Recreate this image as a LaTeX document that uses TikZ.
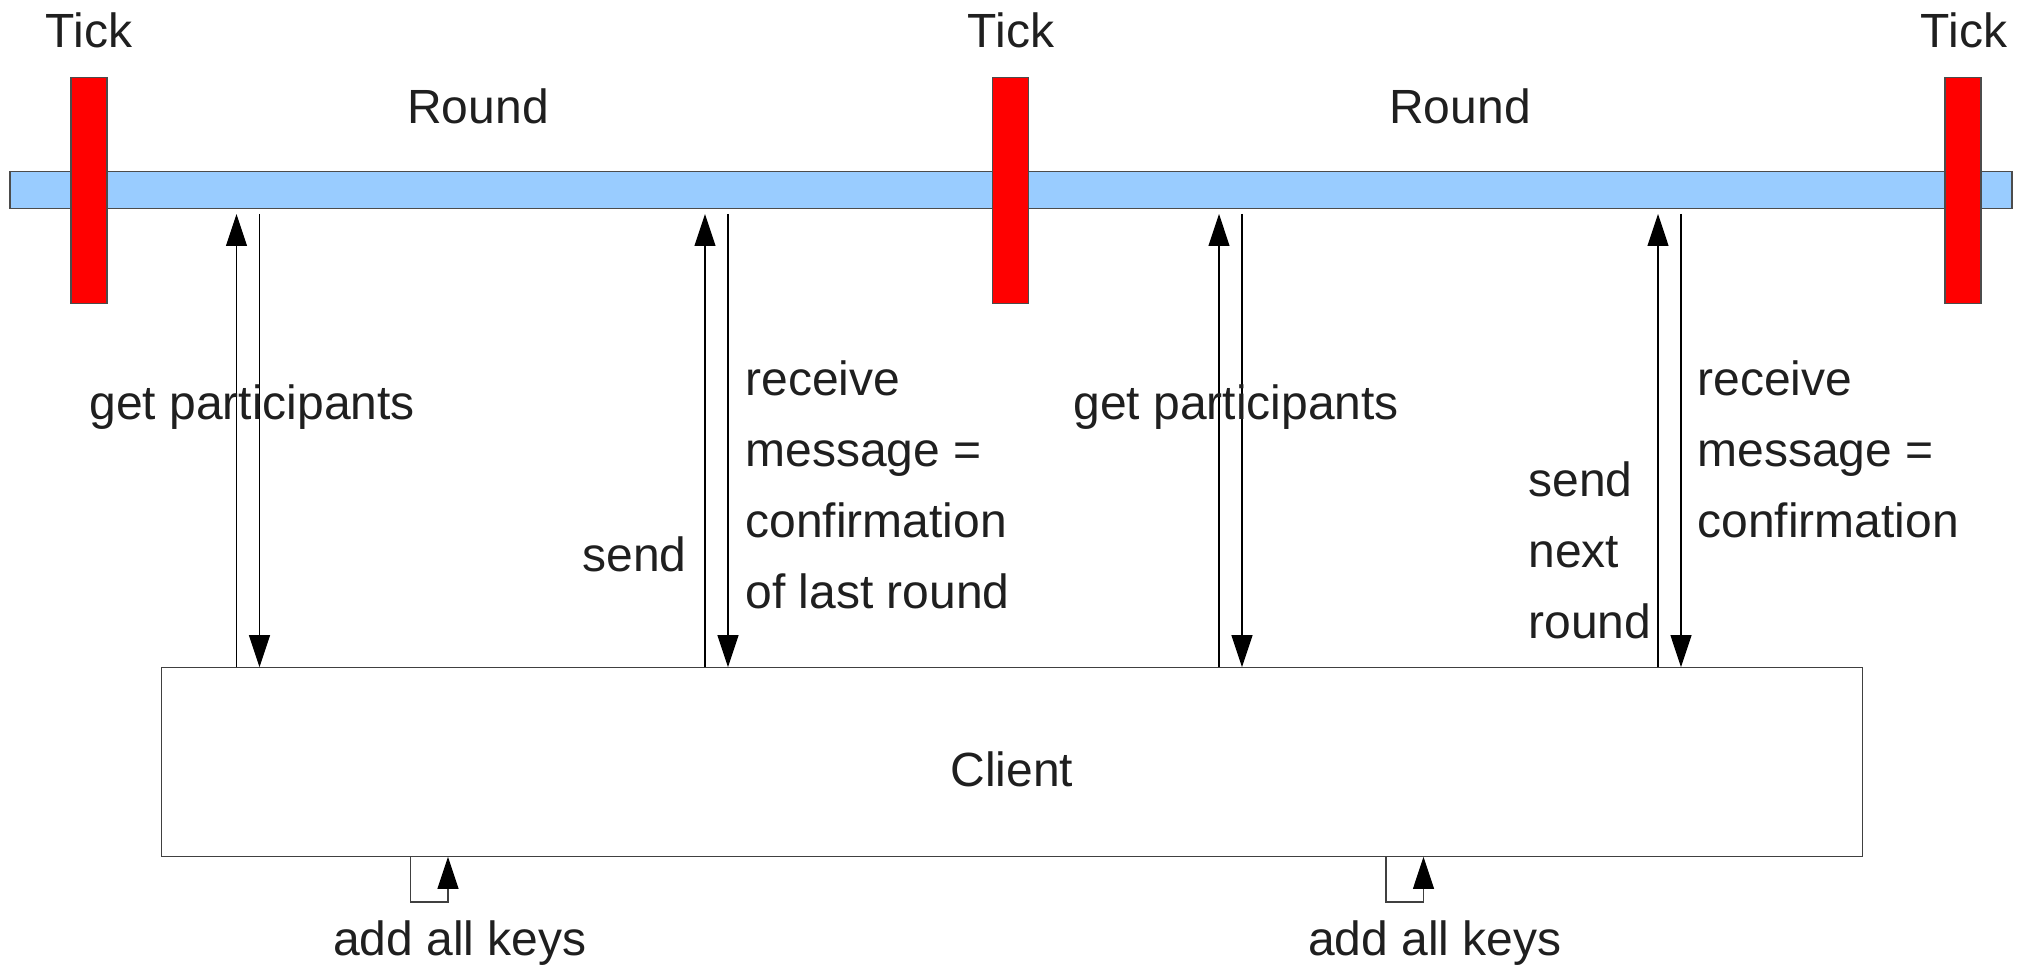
\documentclass[tikz,border=0pt]{standalone}
\usepackage{fontspec}
\setmainfont{Liberation Sans}
\usetikzlibrary{arrows.meta}
\begin{document}
\begin{tikzpicture}[x=0.5pt,y=-0.5pt,
  lbl/.style={font=\fontsize{24}{35.5}\selectfont, text=black!88, inner sep=0pt, align=left},
  tickbar/.style={draw=black!70, fill=red, line width=0.6pt, minimum width=18pt, minimum height=113pt, inner sep=0pt},
  timebar/.style={draw=black!70, fill={rgb,255:red,153;green,204;blue,255}, line width=0.6pt, minimum width=1001pt, minimum height=18.5pt, inner sep=0pt},
  clientbox/.style={draw=black!75, fill=white, line width=0.6pt, minimum width=850.5pt, minimum height=94.3pt, inner sep=0pt},
  arr/.style={draw=black, line width=0.55pt, -{Triangle[length=16pt,width=10.5pt]}},
  loopline/.style={draw=black!75, line width=0.55pt, -{Triangle[length=16pt,width=10.5pt,color=black,fill=black]}}
]
\useasboundingbox (0,0) rectangle (2025,968);

% time line and ticks
\node[timebar] (bar) at (1011,190) {};
\node[tickbar] (t1) at (89,190.5) {};
\node[tickbar] (t2) at (1010.5,190.5) {};
\node[tickbar] (t3) at (1963,190.5) {};
\node[lbl, anchor=base] (tl1) at (89,47.5) {Tick};
\node[lbl, anchor=base] (tl2) at (1011,47.5) {Tick};
\node[lbl, anchor=base] (tl3) at (1964,47.5) {Tick};
\node[lbl, anchor=base] (r1) at (478,124) {Round};
\node[lbl, anchor=base] (r2) at (1460,124) {Round};

% client
\node[clientbox] (client) at (1011.8,762) {};
\node[lbl, anchor=base] (clientlbl) at (1012,786) {Client};

% arrow end points just under the bar
\coordinate (u1) at (236.5,214);
\coordinate (d1) at (259.5,214);
\coordinate (u2) at (705,214);
\coordinate (d2) at (728,214);
\coordinate (u3) at (1219,214);
\coordinate (d3) at (1242,214);
\coordinate (u4) at (1658,214);
\coordinate (d4) at (1681,214);

\draw[arr] (client.north -| u1) -- (u1);
\draw[arr] (d1) -- (client.north -| d1);
\draw[arr] (client.north -| u2) -- (u2);
\draw[arr] (d2) -- (client.north -| d2);
\draw[arr] (client.north -| u3) -- (u3);
\draw[arr] (d3) -- (client.north -| d3);
\draw[arr] (client.north -| u4) -- (u4);
\draw[arr] (d4) -- (client.north -| d4);

% arrow labels (base anchor of a multi-line node = last line's baseline)
\node[lbl, anchor=base west] (gp1) at (89,419) {get participants};
\node[lbl, anchor=base east] (s1) at (687,571) {send};
\node[lbl, anchor=base west] (rm1) at (745,608) {receive\\message =\\confirmation\\of last round};
\node[lbl, anchor=base west] (gp2) at (1073,419) {get participants};
\node[lbl, anchor=base west] (s2) at (1528,638) {send\\next\\round};
\node[lbl, anchor=base west] (rm2) at (1697,537) {receive\\message =\\confirmation};

% add all keys loops
\coordinate (k1a) at (410.5,902);
\coordinate (k1b) at (448,902);
\coordinate (k2a) at (1386,902);
\coordinate (k2b) at (1423.5,902);
\draw[loopline] (client.south -| k1a) -- (k1a) -- (k1b) -- (client.south -| k1b);
\draw[loopline] (client.south -| k2a) -- (k2a) -- (k2b) -- (client.south -| k2b);
\node[lbl, anchor=base] (ak1) at (460,955) {add all keys};
\node[lbl, anchor=base] (ak2) at (1435,955) {add all keys};
\end{tikzpicture}
\end{document}
